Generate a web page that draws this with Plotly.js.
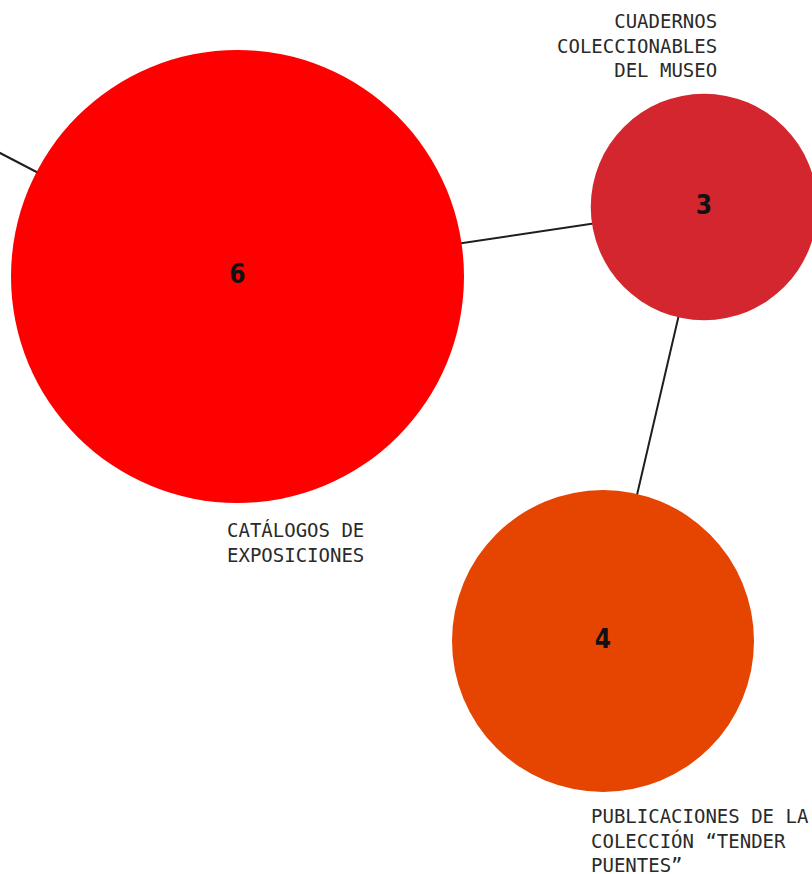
<!DOCTYPE html>
<html>
<head>
<meta charset="utf-8">
<script src="https://cdn.plot.ly/plotly-3.0.1.min.js"></script>
<style>html,body{margin:0;padding:0;background:#fff;}</style>
</head>
<body>
<div id="chart" style="width:812px;height:874px;"></div>
<script>
// Nodes (network layout positions, in layout units)
const nodeNames = ["CATÁLOGOS DE<br>EXPOSICIONES", "CUADERNOS<br>COLECCIONABLES<br>DEL MUSEO", "PUBLICACIONES DE LA<br>COLECCIÓN “TENDER<br>PUENTES”"];
const nodeValues = [6, 3, 4];
const nodeX = [237.5, 704, 603];
const nodeY = [276.5, 207, 641];
const nodeColors = ["#FF0000", "#D3262E", "#E54500"];

// Off-screen neighbour (connected to node 0)
const offX = [-300];
const offY = [-3];

// Edges: pairs of node indices (-1 = off-screen neighbour)
const edgeFrom = [-1, 0, 1];
const edgeTo = [0, 1, 2];

// Label placement
const labelX = [225, 719, 589];
const labelY = [517, 8, 803];
const labelAnchor = ["left", "right", "left"];

const px = i => i < 0 ? offX[-i - 1] : nodeX[i];
const py = i => i < 0 ? offY[-i - 1] : nodeY[i];

const ex = [], ey = [];
for (let k = 0; k < edgeFrom.length; k++) {
  ex.push(px(edgeFrom[k]), px(edgeTo[k]), null);
  ey.push(py(edgeFrom[k]), py(edgeTo[k]), null);
}

const edges = {
  x: ex, y: ey, mode: "lines", type: "scatter", hoverinfo: "skip",
  line: {color: "#1e1e1e", width: 2}
};

const nodes = {
  x: nodeX, y: nodeY, type: "scatter", mode: "markers+text",
  text: nodeValues.map(String), textposition: "middle center",
  textfont: {family: "DejaVu Sans Condensed, Liberation Sans Narrow, sans-serif", size: 26, color: "#111", weight: "bold"},
  marker: {size: nodeValues, sizemode: "diameter", sizeref: 1 / 75.5, color: nodeColors, line: {width: 0}, opacity: 1},
  hoverinfo: "skip"
};

const annotations = nodeNames.map((n, i) => ({
  x: labelX[i], y: labelY[i], xref: "x", yref: "y",
  text: n, showarrow: false, xanchor: labelAnchor[i], yanchor: "top", align: labelAnchor[i],
  font: {family: "DejaVu Sans Mono, monospace", size: 19, color: "#2a2a2a"}
}));

const layout = {
  width: 812, height: 874,
  margin: {l: 0, r: 0, t: 0, b: 0, pad: 0},
  paper_bgcolor: "#ffffff", plot_bgcolor: "#ffffff",
  showlegend: false,
  xaxis: {range: [0, 812], visible: false, fixedrange: true},
  yaxis: {range: [874, 0], visible: false, fixedrange: true},
  annotations: annotations
};

Plotly.newPlot("chart", [edges, nodes], layout, {staticPlot: true, displayModeBar: false});
</script>
</body>
</html>
